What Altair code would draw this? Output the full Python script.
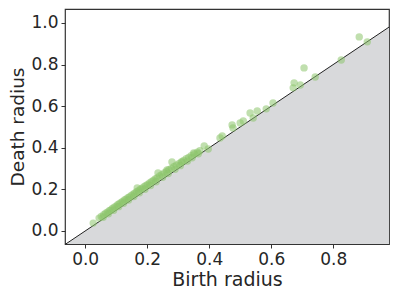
import altair as alt
import pandas as pd

birth = [0.884, 0.910, 0.826, 0.706, 0.742, 0.674, 0.694, 0.671, 0.606, 0.584,
         0.555, 0.532, 0.542, 0.510, 0.500, 0.474, 0.477, 0.442, 0.435, 0.384,
         0.397, 0.350, 0.313, 0.280, 0.264, 0.235, 0.168, 0.026,
         0.045, 0.052, 0.060, 0.066, 0.072, 0.078, 0.083, 0.088, 0.094, 0.100,
         0.105, 0.110, 0.116, 0.121, 0.127, 0.132, 0.138, 0.143, 0.149, 0.155,
         0.160, 0.166, 0.172, 0.178, 0.184, 0.190, 0.196, 0.202, 0.208, 0.214,
         0.220, 0.226, 0.232, 0.240, 0.247, 0.255, 0.262, 0.270, 0.278, 0.286,
         0.294, 0.302, 0.310, 0.318, 0.326, 0.334, 0.342, 0.352, 0.362, 0.370,
         0.058, 0.075, 0.092, 0.108, 0.124, 0.140, 0.157, 0.175, 0.193, 0.211,
         0.229, 0.250, 0.268, 0.290, 0.307, 0.330, 0.345, 0.365]
death = [0.933, 0.909, 0.822, 0.784, 0.740, 0.712, 0.702, 0.688, 0.615, 0.587,
         0.577, 0.567, 0.543, 0.529, 0.519, 0.510, 0.495, 0.457, 0.447, 0.409,
         0.394, 0.375, 0.332, 0.332, 0.293, 0.279, 0.207, 0.038,
         0.062, 0.070, 0.078, 0.085, 0.090, 0.097, 0.101, 0.108, 0.114, 0.119,
         0.126, 0.131, 0.137, 0.142, 0.149, 0.153, 0.160, 0.164, 0.171, 0.177,
         0.182, 0.189, 0.194, 0.201, 0.206, 0.213, 0.219, 0.224, 0.231, 0.237,
         0.243, 0.250, 0.255, 0.264, 0.270, 0.279, 0.285, 0.294, 0.300, 0.309,
         0.316, 0.324, 0.332, 0.339, 0.347, 0.354, 0.362, 0.370, 0.379, 0.386,
         0.066, 0.083, 0.100, 0.117, 0.133, 0.149, 0.166, 0.184, 0.201, 0.219,
         0.237, 0.258, 0.276, 0.297, 0.314, 0.336, 0.352, 0.371]

diag_x = [-0.07, 0.99]

x_domain = [-0.065, 0.98]
y_domain = [-0.0625, 1.067]

pts = pd.DataFrame({"birth": birth, "death": death})
diag = pd.DataFrame({"x": diag_x, "y": diag_x, "y2": [-0.0625, -0.0625]})

xs = alt.Scale(domain=x_domain, nice=False, zero=False)
ys = alt.Scale(domain=y_domain, nice=False, zero=False)

common = dict(format=".1f", grid=False, tickSize=4, tickColor="#333333", domain=False,
              labelFontSize=17, labelColor="#262626",
              titleColor="#262626", labelPadding=3,
              labelFont="DejaVu Sans", titleFont="DejaVu Sans", titleFontWeight="normal")
xaxis = alt.Axis(title="Birth radius", values=[0, 0.2, 0.4, 0.6, 0.8], titlePadding=3,
                 titleFontSize=19, **common)
yaxis = alt.Axis(title="Death radius", values=[0, 0.2, 0.4, 0.6, 0.8, 1.0], titlePadding=3,
                 titleFontSize=18.5, **common)

area = alt.Chart(diag).mark_area(color="#d8d9db", clip=True).encode(
    x=alt.X("x:Q", scale=xs, axis=xaxis),
    y=alt.Y("y:Q", scale=ys, axis=yaxis),
    y2="y2:Q",
)
line = alt.Chart(diag).mark_line(color="#222222", strokeWidth=1, clip=True).encode(
    x=alt.X("x:Q", scale=xs),
    y=alt.Y("y:Q", scale=ys),
)
points = alt.Chart(pts).mark_circle(color="#8cc46c", opacity=0.55, size=55, clip=True).encode(
    x=alt.X("birth:Q", scale=xs),
    y=alt.Y("death:Q", scale=ys),
)

chart = (area + line + points).properties(
    width=324, height=235,
    autosize=alt.AutoSizeParams(type="none"),
    padding={"left": 57, "top": 1, "right": 2, "bottom": 47},
).configure_view(stroke="#333333", strokeWidth=1.2)

chart.save("out.html", embed_options={"renderer": "svg", "actions": False})
